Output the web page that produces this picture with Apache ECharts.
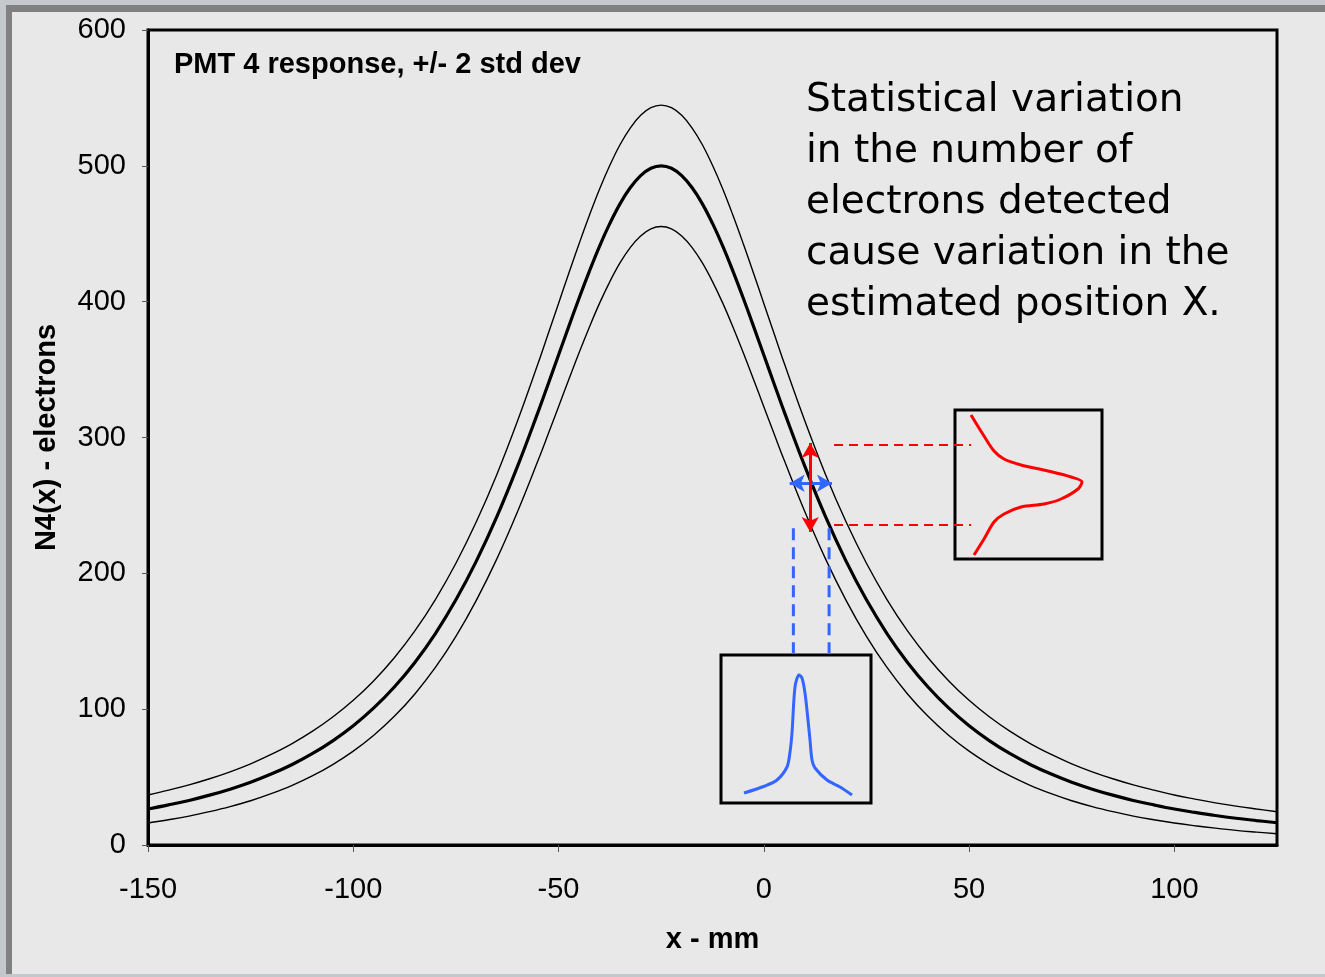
<!DOCTYPE html>
<html>
<head>
<meta charset="utf-8">
<script src="https://cdn.jsdelivr.net/npm/echarts@6/dist/echarts.min.js"></script>
<style>html,body{margin:0;padding:0;background:#e8e8e8;}#c{width:1325px;height:977px;}</style>
</head>
<body>
<div id="c"></div>
<script>
// ---- data ----
const xs = [-150,-145,-140,-135,-130,-125,-120,-115,-110,-105,-100,-95,-90,-85,-80,-75,-70,-65,-60,-55,-52.5,-50,-47.5,-45,-42.5,-40,-37.5,-35,-32.5,-30,-27.5,-25,-22.5,-20,-17.5,-15,-12.5,-10,-7.5,-5,-2.5,0,2.5,5,10,15,20,25,30,35,40,45,50,55,60,65,70,75,80,85,90,95,100,105,110,115,120,125];
const mainN = [26.5,29.5,32.8,36.7,41.1,46.2,52.2,59.1,67.2,76.7,87.8,100.9,116.3,134.4,155.7,180.5,209.2,241.9,278.7,318.7,339.6,360.7,381.8,402.5,422.3,440.9,457.6,472.2,484.0,492.8,498.2,500,498.2,492.8,484.0,472.2,457.6,440.9,422.3,402.5,381.8,360.7,339.6,318.7,278.7,241.9,209.2,180.5,155.7,134.4,116.3,100.9,87.8,76.7,67.2,59.1,52.2,46.2,41.1,36.7,32.8,29.5,26.5,24.0,21.7,19.7,18.0,16.4];
const upperN = [36.8,40.4,44.3,48.8,53.9,59.8,66.7,74.5,83.6,94.2,106.5,121.0,137.9,157.6,180.7,207.4,238.1,273.0,312.1,354.4,376.5,398.7,420.9,442.6,463.4,482.9,500.4,515.7,528.0,537.2,542.8,544.7,542.8,537.2,528.0,515.7,500.4,482.9,463.4,442.6,420.9,398.7,376.5,354.4,312.1,273.0,238.1,207.4,180.7,157.6,137.9,121.0,106.5,94.2,83.6,74.5,66.7,59.8,53.9,48.8,44.3,40.4,36.8,33.8,31.0,28.6,26.5,24.5];
const lowerN = [16.2,18.6,21.3,24.6,28.3,32.6,37.8,43.7,50.8,59.2,69.1,80.8,94.7,111.2,130.7,153.6,180.3,210.8,245.3,283.0,302.7,322.7,342.7,362.4,381.2,398.9,414.8,428.7,440.0,448.4,453.6,455.3,453.6,448.4,440.0,428.7,414.8,398.9,381.2,362.4,342.7,322.7,302.7,283.0,245.3,210.8,180.3,153.6,130.7,111.2,94.7,80.8,69.1,59.2,50.8,43.7,37.8,32.6,28.3,24.6,21.3,18.6,16.2,14.2,12.4,10.8,9.5,8.3];
const xTickLabels = [-150,-100,-50,0,50,100];
const yTicks = [0,100,200,300,400,500,600];

// annotation geometry (main chart data units)
const redArrow = [[11.3,296.0],[11.3,230.5]];
const blueArrow = [[6.3,266.3],[16.6,266.3]];
const redDash1 = [[17.1,294.5],[50.5,294.5]];
const redDash2 = [[17.1,235.6],[50.5,235.6]];
const blueDash1 = [[7.2,233.1],[7.2,141.4]];
const blueDash2 = [[15.9,233.1],[15.9,141.4]];

// inset sketches (inset-local units)
const blueInsetX = [23,44,56,66,69,71,74,78,81,84,87,89,91,94,106,119,131];
const blueInsetY = [10,17,23,36,51,70,116,128,125,110,83,63,43,35,23,16,8];
const redInsetX = [16,29,39,49,66,93,116,127,123,106,89,66,49,39,29,19];
const redInsetY = [144,123,108,100,94,88,82,77,70,60,55,52,45,37,20,4];

const titleText = 'PMT 4 response, +/- 2 std dev';
const noteText = 'Statistical variation\nin the number of\nelectrons detected\ncause variation in the\nestimated position X.';
const xName = 'x - mm';
const yName = 'N4(x) - electrons';

const zip = (a, b) => a.map((v, i) => [v, b[i]]);

const chart = echarts.init(document.getElementById('c'), null, {renderer: 'canvas'});
const FONT = '"Liberation Sans", Arial, sans-serif';
const BLUE = '#3366ff';
const RED = '#ff0000';

function dashSeries(pts, color, width, dash) {
  return {type: 'line', xAxisIndex: 0, yAxisIndex: 0, data: pts, symbol: 'none', silent: true, z: 4,
    lineStyle: {color: color, width: width, type: dash}};
}

chart.setOption({
  backgroundColor: '#e8e8e8',
  animation: false,
  title: [{
    text: titleText, left: 174, top: 50, padding: 0,
    textStyle: {fontFamily: FONT, fontSize: 29, fontWeight: 'bold', color: '#000'}
  }],
  graphic: [
    {type: 'rect', shape: {x: 0, y: 0, width: 1325, height: 5}, style: {fill: '#c4c8cc'}, silent: true, z: -10},
    {type: 'rect', shape: {x: 0, y: 0, width: 6, height: 977}, style: {fill: '#c4c8cc'}, silent: true, z: -10},
    {type: 'rect', shape: {x: 6, y: 5, width: 1319, height: 7}, style: {fill: '#808080'}, silent: true, z: -10},
    {type: 'rect', shape: {x: 6, y: 5, width: 6, height: 972}, style: {fill: '#808080'}, silent: true, z: -10},
    {type: 'rect', shape: {x: 0, y: 974, width: 1325, height: 3}, style: {fill: '#c4c8cc'}, silent: true, z: -10},
    {type: 'text', left: 806, top: 75, silent: true, z: 10,
     style: {text: noteText, fontFamily: '"Comic Sans MS", "DejaVu Sans", sans-serif', fontSize: 39, lineHeight: 51, fill: '#000'}}
  ],
  grid: [
    {left: 148, top: 30, right: 48, bottom: 132, show: true, borderColor: '#000', borderWidth: 3, backgroundColor: 'transparent'},
    {left: 721, top: 655, width: 150, height: 148, show: true, borderColor: '#000', borderWidth: 3, backgroundColor: 'transparent'},
    {left: 955, top: 410, width: 147, height: 149, show: true, borderColor: '#000', borderWidth: 3, backgroundColor: 'transparent'}
  ],
  xAxis: [
    {type: 'value', gridIndex: 0, min: -150, max: 125, interval: 50,
     name: xName, nameLocation: 'middle', nameGap: 80,
     nameTextStyle: {fontFamily: FONT, fontSize: 29, fontWeight: 'bold', color: '#000'},
     axisLine: {show: true, onZero: false, lineStyle: {color: '#000', width: 3}},
     axisTick: {show: true, length: 7, customValues: xTickLabels, lineStyle: {color: '#555', width: 1}},
     axisLabel: {customValues: xTickLabels, margin: 30, fontFamily: FONT, fontSize: 29, color: '#000'},
     splitLine: {show: false}},
    {type: 'value', gridIndex: 1, min: 0, max: 150, show: false},
    {type: 'value', gridIndex: 2, min: 0, max: 147, show: false}
  ],
  yAxis: [
    {type: 'value', gridIndex: 0, min: 0, max: 600, interval: 100,
     name: yName, nameLocation: 'middle', nameGap: 87, nameRotate: 90,
     nameTextStyle: {fontFamily: FONT, fontSize: 29, fontWeight: 'bold', color: '#000'},
     axisLine: {show: true, onZero: false, lineStyle: {color: '#000', width: 3}},
     axisTick: {show: true, length: 6, lineStyle: {color: '#555', width: 1}},
     axisLabel: {margin: 22, fontFamily: FONT, fontSize: 29, color: '#000'},
     splitLine: {show: false}},
    {type: 'value', gridIndex: 1, min: 0, max: 148, show: false},
    {type: 'value', gridIndex: 2, min: 0, max: 149, show: false}
  ],
  series: [
    {type: 'line', name: 'upper', xAxisIndex: 0, yAxisIndex: 0, data: zip(xs, upperN), symbol: 'none', smooth: 0.4,
     lineStyle: {color: '#000', width: 1.4}, z: 3},
    {type: 'line', name: 'lower', xAxisIndex: 0, yAxisIndex: 0, data: zip(xs, lowerN), symbol: 'none', smooth: 0.4,
     lineStyle: {color: '#000', width: 1.4}, z: 3},
    {type: 'line', name: 'N4', xAxisIndex: 0, yAxisIndex: 0, data: zip(xs, mainN), symbol: 'none', smooth: 0.4,
     lineStyle: {color: '#000', width: 3.2}, z: 3},
    dashSeries(redDash1, RED, 2, [9, 6]),
    dashSeries(redDash2, RED, 2, [9, 6]),
    dashSeries(blueDash1, BLUE, 3, [12, 7]),
    dashSeries(blueDash2, BLUE, 3, [12, 7]),
    {type: 'line', xAxisIndex: 0, yAxisIndex: 0, data: [], symbol: 'none', silent: true, z: 5,
     markLine: {silent: true, animation: false, label: {show: false}, symbol: ['arrow', 'arrow'], symbolSize: [13, 15],
       data: [
         [{coord: blueArrow[0], lineStyle: {color: BLUE, width: 3, type: 'solid'}, itemStyle: {color: BLUE}}, {coord: blueArrow[1]}],
         [{coord: redArrow[0], lineStyle: {color: RED, width: 3, type: 'solid'}, itemStyle: {color: RED}}, {coord: redArrow[1]}]
       ]}},
    {type: 'line', xAxisIndex: 1, yAxisIndex: 1, data: zip(blueInsetX, blueInsetY), symbol: 'none', smooth: 0.3,
     lineStyle: {color: BLUE, width: 3}, silent: true},
    {type: 'line', xAxisIndex: 2, yAxisIndex: 2, data: zip(redInsetX, redInsetY), symbol: 'none', smooth: 0.3,
     lineStyle: {color: RED, width: 3}, silent: true}
  ]
});
</script>
</body>
</html>
